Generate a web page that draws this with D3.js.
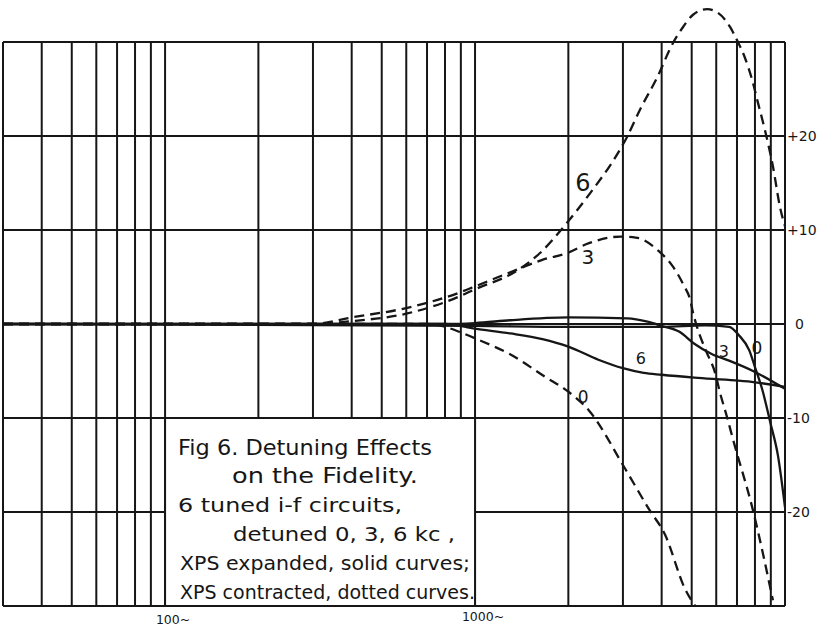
<!DOCTYPE html>
<html><head><meta charset="utf-8">
<script src="https://cdn.jsdelivr.net/npm/d3@7"></script>
<style>html,body{margin:0;padding:0;background:#fff;} svg{display:block;}</style>
</head><body>
<svg id="chart" width="817" height="628"></svg>
<script>
// ---------- data ----------
const gridFreqs = [30,40,50,60,70,80,90,100,200,300,400,500,600,700,800,900,1000,2000,3000,4000,5000,6000,7000,8000,9000,10000];
const gridDb = [-30,-20,-10,0,10,20,30];
const rightTickValues = [20,10,0,-10,-20];
const rightTickLabels = ["+20","+10","0","-10","-20"];
const bottomTickValues = [100,1000];
const bottomTickLabels = ["100~","1000~"];

// solid curves (XPS expanded)
const solid0Freq = [30,1000,2000,4000,5500,6600,7100,7670,8020,8450,8970,9490,10000];
const solid0Db   = [0,-0.2,-0.3,-0.3,-0.15,-0.3,-1.2,-2.8,-4.7,-7.0,-10.5,-14.0,-19.5];
const solid3Freq = [30,800,1000,1300,2000,3100,3600,4000,4550,5100,5800,6600,8000,10000];
const solid3Db   = [0,0,0.1,0.4,0.7,0.6,0.25,-0.2,-0.8,-2.1,-3.2,-3.9,-5.1,-6.9];
const solid6Freq = [30,800,1000,1300,1650,2000,2500,3000,3500,4000,5100,6900,8000,10000];
const solid6Db   = [0,0,-0.5,-1.0,-1.6,-2.4,-3.8,-4.7,-5.2,-5.4,-5.7,-6.0,-6.2,-6.7];

// dashed curves (XPS contracted)
const dashed0Freq = [30,700,800,900,1030,1310,1680,2000,2330,3050,3640,4100,4760,5130];
const dashed0Db   = [0,0,-0.3,-0.9,-1.7,-3.3,-5.6,-7.2,-9.2,-15.4,-19.7,-22.4,-28.2,-30];
const dashed3Freq = [30,300,400,600,900,1000,1370,1640,2000,2330,2950,3300,3900,4350,4700,4950,5050,5200,5550,5950,6170,6500,6800,7880,9140];
const dashed3Db   = [0,0,0.7,1.7,3.4,4.0,5.8,6.8,7.6,8.6,9.3,9.2,7.8,6.1,4.2,2.5,1.2,-0.3,-2.8,-5.2,-7.3,-9.9,-12.3,-19.8,-29.4];
const dashed6Freq = [30,300,400,600,900,985,1369,1620,1950,2349,2893,3093,3405,3865,4352,4690,5050,5605,6080,6648,7000,7430,7830,8185,8620,9150,9640,10000];
const dashed6Db   = [0,0,0.3,1.1,3.0,3.6,5.7,7.55,10.5,13.9,18.2,19.9,22.8,26.2,29.9,31.6,32.9,33.5,33.1,31.6,30.2,28.3,26.0,23.5,20.6,16.7,12.4,10.4];

// curve labels
const labelText = ["6","3","0","6","3","0"];
const labelFreq = [2230,2313,2232,3430,6350,8115];
const labelDb   = [15.0,7.1,-7.8,-3.7,-2.9,-2.55];
const labelSize = [24,20,17,16,16,17];

const captionLines = ["Fig 6. Detuning Effects","on the Fidelity.","6 tuned i-f circuits,","detuned 0, 3, 6 kc ,","XPS expanded, solid curves;","XPS contracted, dotted curves."];

// ---------- drawing ----------
const svg = d3.select("#chart");
const ink = "#161616";
const x = d3.scaleLog().domain([30,10000]).range([3,785]);
const y = d3.scaleLinear().domain([-30,30]).range([606,42]);
const font = "'DejaVu Sans', sans-serif";

const grid = svg.append("g");
grid.selectAll("line.v").data(gridFreqs).join("line")
  .attr("x1", d=>x(d)).attr("x2", d=>x(d)).attr("y1", y(30)).attr("y2", y(-30))
  .attr("stroke", ink).attr("stroke-width", 2);
grid.selectAll("line.h").data(gridDb).join("line")
  .attr("x1", x(30)).attr("x2", x(10000)).attr("y1", d=>y(d)).attr("y2", d=>y(d))
  .attr("stroke", ink).attr("stroke-width", 2);

// caption box (blank area of the grid)
svg.append("rect")
  .attr("x", x(100)).attr("y", y(-10)).attr("width", x(1000)-x(100)).attr("height", y(-30)-y(-10))
  .attr("fill", "#fff").attr("stroke", ink).attr("stroke-width", 2);

// right axis labels
svg.append("g").selectAll("text").data(rightTickValues).join("text")
  .attr("x", d=> d===0 ? x(10000)+10 : x(10000)+2)
  .attr("y", d=>y(d)).attr("dy","0.35em")
  .attr("font-family", font).attr("font-size", 14).attr("fill", ink)
  .text((d,i)=>rightTickLabels[i]);

// bottom labels
svg.append("g").selectAll("text").data(bottomTickValues).join("text")
  .attr("x", d=>x(d)+8).attr("y", (d,i)=> i===0 ? 624 : 621)
  .attr("text-anchor","middle")
  .attr("font-family", font).attr("font-size", 12.5).attr("fill", ink)
  .text((d,i)=>bottomTickLabels[i]);

// curves
const line = d3.line().x(d=>x(d[0])).y(d=>y(d[1])).curve(d3.curveMonotoneX);
const series = [
  {f:solid0Freq, v:solid0Db, dash:null},
  {f:solid3Freq, v:solid3Db, dash:null},
  {f:solid6Freq, v:solid6Db, dash:null},
  {f:dashed0Freq, v:dashed0Db, dash:"10,6"},
  {f:dashed3Freq, v:dashed3Db, dash:"10,6"},
  {f:dashed6Freq, v:dashed6Db, dash:"10,6"}
];
svg.append("g").selectAll("path").data(series).join("path")
  .attr("d", s=>line(s.f.map((f,i)=>[f,s.v[i]])))
  .attr("fill","none").attr("stroke", ink).attr("stroke-width", 2.3)
  .attr("stroke-dasharray", s=>s.dash);

// curve labels
svg.append("g").selectAll("text").data(labelText).join("text")
  .attr("x",(d,i)=>x(labelFreq[i])).attr("y",(d,i)=>y(labelDb[i]))
  .attr("dy","0.35em").attr("text-anchor","middle")
  .attr("font-family", font).attr("font-size",(d,i)=>labelSize[i]).attr("fill", ink)
  .text(d=>d);

// caption
const capX = [178,232,178,233,180,180];
const capY = [455,483,512,541,570,599];
const capLen = [254,186,224,222,290,295];
const capSize = [21,21,19,19,19,19];
svg.append("g").selectAll("text").data(captionLines).join("text")
  .attr("x",(d,i)=>capX[i]).attr("y",(d,i)=>capY[i])
  .attr("textLength",(d,i)=>capLen[i]).attr("lengthAdjust","spacingAndGlyphs")
  .attr("font-family", font).attr("font-size",(d,i)=>capSize[i]).attr("fill", ink)
  .text(d=>d);
</script>
</body></html>
